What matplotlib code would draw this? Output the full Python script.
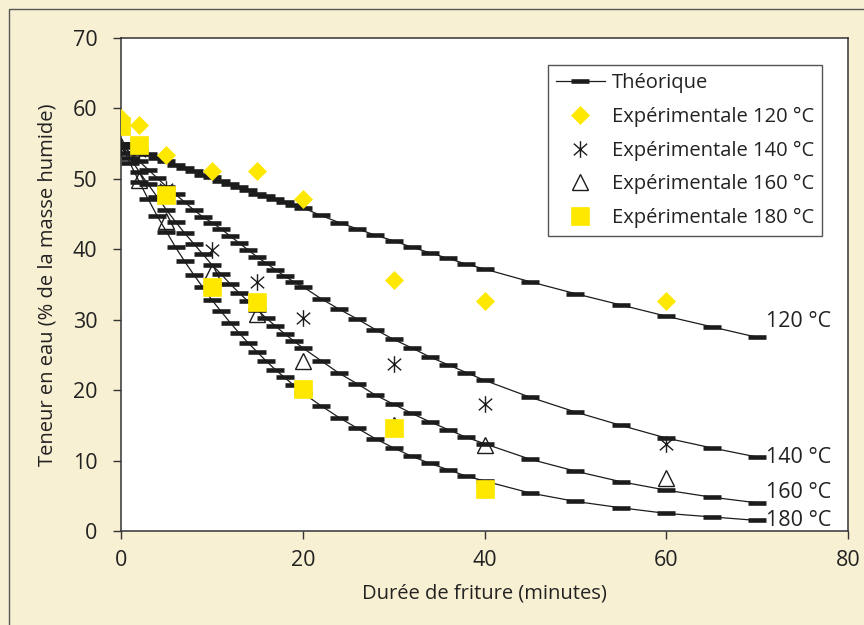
import matplotlib
matplotlib.use("Agg")
import matplotlib.pyplot as plt
from matplotlib.path import Path
from matplotlib.patches import Rectangle
from matplotlib.lines import Line2D

plt.rcParams['font.family'] = ['Open Sans', 'DejaVu Sans']

# ---- Theoretical curves (marker times, minutes) ----
t_theo = [0, 1, 2, 3, 4, 5, 6, 7, 8, 9, 10, 11, 12, 13, 14, 15, 16, 17, 18, 19, 20,
          22, 24, 26, 28, 30, 32, 34, 36, 38, 40, 45, 50, 55, 60, 65, 70]
theo_120 = [55.0, 54.5, 54.0, 53.5, 53.0, 52.5, 52.0, 51.6, 51.1, 50.6, 50.2, 49.7, 49.3, 48.8,
            48.4, 47.9, 47.5, 47.1, 46.7, 46.3, 45.9,
            44.8, 43.8, 42.9, 42.0, 41.2, 40.3, 39.5, 38.7, 37.9, 37.2,
            35.4, 33.7, 32.1, 30.5, 29.0, 27.5]
theo_140 = [55.0, 53.7, 52.5, 51.3, 50.1, 48.9, 47.8, 46.7, 45.6, 44.6, 43.8, 42.9, 41.9, 40.9,
            39.9, 38.9, 38.0, 37.1, 36.2, 35.4, 34.7,
            33.0, 31.5, 30.1, 28.6, 27.2, 26.0, 24.7, 23.6, 22.5, 21.4,
            19.0, 16.9, 15.0, 13.2, 11.8, 10.5]
theo_160 = [55.0, 53.0, 51.0, 49.2, 47.4, 45.6, 43.9, 42.3, 40.8, 39.3, 37.8, 36.5, 35.1, 33.8,
            32.6, 31.4, 30.2, 29.1, 28.0, 27.0, 26.0,
            24.2, 22.4, 20.9, 19.3, 18.0, 16.7, 15.5, 14.4, 13.3, 12.4,
            10.2, 8.5, 7.0, 5.8, 4.8, 4.0]
theo_180 = [55.0, 52.2, 49.6, 47.1, 44.7, 42.5, 40.3, 38.3, 36.4, 34.6, 32.8, 31.2, 29.6, 28.1,
            26.7, 25.4, 24.1, 22.9, 21.8, 20.7, 19.6,
            17.8, 16.1, 14.6, 13.1, 11.8, 10.6, 9.6, 8.7, 7.8, 7.1,
            5.4, 4.2, 3.3, 2.5, 2.0, 1.5]

# ---- Experimental points ----
t_120 = [0, 2, 5, 10, 15, 20, 30, 40, 60]
exp_120 = [58.6, 57.6, 53.4, 51.1, 51.1, 47.1, 35.6, 32.7, 32.7]
t_140 = [0, 2, 5, 10, 15, 20, 30, 40, 60]
exp_140 = [54.4, 54.0, 48.5, 39.9, 35.4, 30.3, 23.7, 18.0, 12.4]
t_160 = [0, 2, 5, 10, 15, 20, 30, 40, 60]
exp_160 = [54.6, 49.8, 44.0, 36.8, 30.8, 24.1, 15.0, 12.2, 7.5]
t_180 = [0, 2, 5, 10, 15, 20, 30, 40]
exp_180 = [57.5, 54.8, 47.7, 34.6, 32.5, 20.2, 14.6, 5.9]

curve_labels = ["120 °C", "140 °C", "160 °C", "180 °C"]
label_y = [29.7, 10.5, 5.4, 1.5]
legend_labels = ["Théorique", "Expérimentale 120 °C", "Expérimentale 140 °C",
                 "Expérimentale 160 °C", "Expérimentale 180 °C"]

BG = '#F8F0D3'
YEL = '#FFE800'
DARK = '#1c1c1c'
TXT = '#222222'
FS = 14.5
FS_NUM = 15.5

star = Path([(0, -1), (0, 1), (-0.8, -0.7), (0.8, 0.7), (-0.8, 0.7), (0.8, -0.7)],
            [Path.MOVETO, Path.LINETO, Path.MOVETO, Path.LINETO, Path.MOVETO, Path.LINETO])

fig = plt.figure(figsize=(8.64, 6.25), dpi=100, facecolor=BG)
fig.patches.append(Rectangle((9 / 864, -0.1), 1.2, 1.1 - 9 / 625, transform=fig.transFigure,
                             fill=False, edgecolor='#555555', lw=1.0, zorder=0))
ax = fig.add_axes([121 / 864, 1 - 531 / 625, (848 - 121) / 864, (531 - 38) / 625])
ax.set_facecolor('white')

theo_kw = dict(color=DARK, lw=0.9, marker='_', ms=12.5, mew=3.3, mec=DARK, zorder=2)
for ys in (theo_120, theo_140, theo_160, theo_180):
    ax.plot(t_theo, ys, **theo_kw)

ax.plot(t_120, exp_120, ls='none', marker='D', ms=9.5, mfc=YEL, mec=YEL, mew=0.5, zorder=4)
ax.plot(t_140, exp_140, ls='none', marker=star, ms=12, mfc='none', mec=DARK, mew=1.0, zorder=4)
ax.plot(t_160, exp_160, ls='none', marker='^', ms=12, mfc='none', mec=DARK, mew=1.0, zorder=4)
ax.plot(t_180, exp_180, ls='none', marker='s', ms=12.5, mfc=YEL, mec=YEL, mew=0.5, zorder=5)

for lab, yv in zip(curve_labels, label_y):
    ax.text(71.0, yv, lab, ha='left', va='center', fontsize=FS_NUM, color=TXT)

ax.set_xlim(0, 80)
ax.set_ylim(0, 70)
ax.set_xticks([0, 20, 40, 60, 80])
ax.set_yticks(range(0, 71, 10))
ax.tick_params(direction='out', length=6, width=1.0, colors='#333333', labelsize=FS_NUM,
               labelcolor=TXT)
ax.tick_params(axis='y', pad=11)
ax.tick_params(axis='x', pad=8)
for s in ax.spines.values():
    s.set_color('#333333')
    s.set_linewidth(1.1)

ax.set_xlabel("Durée de friture (minutes)", fontsize=FS, color=TXT, labelpad=9)
ax.set_ylabel("Teneur en eau (% de la masse humide)", fontsize=FS, color=TXT, labelpad=11)

handles = [
    Line2D([], [], **theo_kw),
    Line2D([], [], ls='none', marker='D', ms=9.5, mfc=YEL, mec=YEL, mew=0.5),
    Line2D([], [], ls='none', marker=star, ms=12, mfc='none', mec=DARK, mew=1.0),
    Line2D([], [], ls='none', marker='^', ms=12, mfc='none', mec=DARK, mew=1.0),
    Line2D([], [], ls='none', marker='s', ms=12.5, mfc=YEL, mec=YEL, mew=0.5),
]
leg = ax.legend(handles, legend_labels, loc='upper right',
                bbox_to_anchor=(822 / 864, 1 - 65 / 625), bbox_transform=fig.transFigure,
                borderaxespad=0, fontsize=FS, frameon=True, fancybox=False,
                edgecolor='#555555', framealpha=1, handlelength=2.4, handletextpad=0.35,
                labelspacing=0.68, borderpad=0.4, labelcolor=TXT)
leg.get_frame().set_linewidth(1.0)

fig.savefig("out.png", dpi=100, facecolor=BG)
